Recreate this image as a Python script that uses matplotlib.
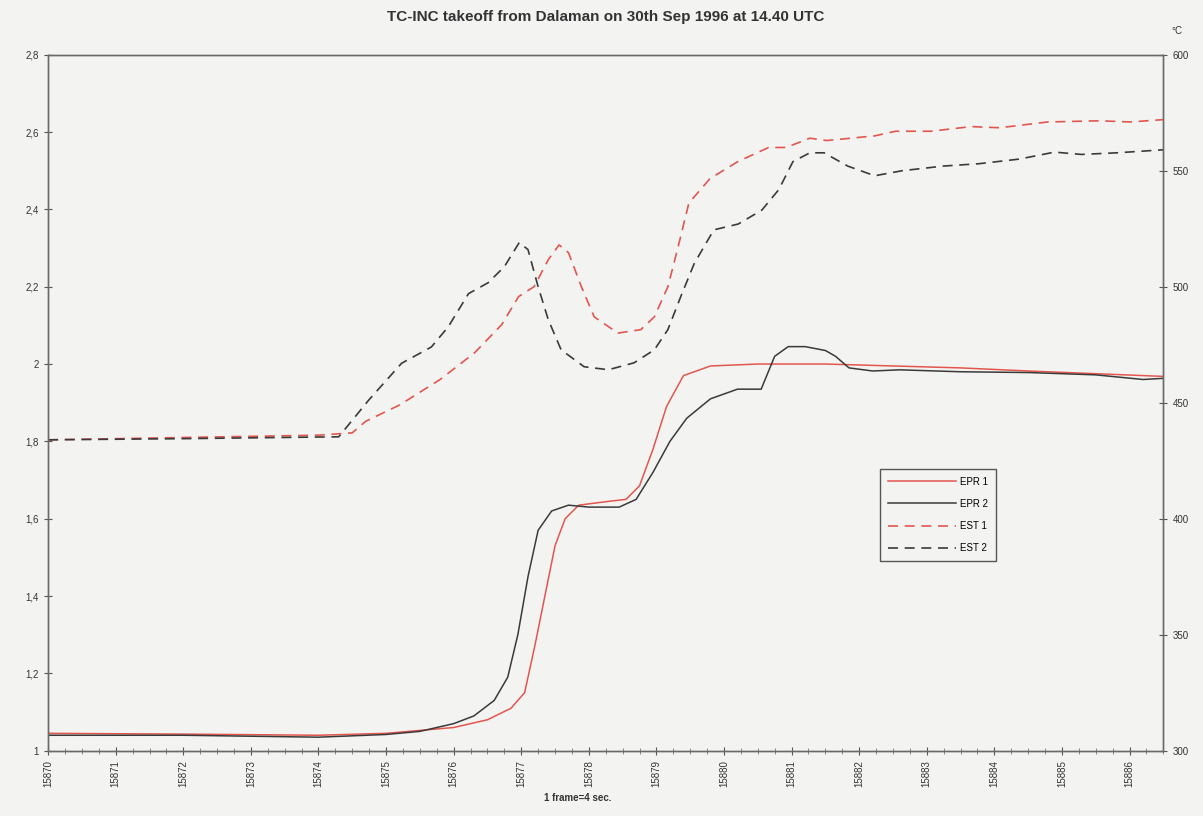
import matplotlib
matplotlib.use("Agg")
import matplotlib.pyplot as plt
from matplotlib.ticker import MultipleLocator, FuncFormatter

plt.rcParams['font.family'] = ['Liberation Sans', 'DejaVu Sans']

# EPR 1 (left axis)
epr1_f = [15870.0, 15872.0, 15874.0, 15875.0, 15876.0, 15876.5, 15876.85, 15877.05, 15877.2,
          15877.35, 15877.5, 15877.65, 15877.85, 15878.3, 15878.55, 15878.75, 15878.95, 15879.15,
          15879.4, 15879.8, 15880.5, 15881.5, 15882.5, 15883.5, 15884.5, 15885.5, 15886.5]
epr1_v = [1.045, 1.043, 1.040, 1.045, 1.06, 1.08, 1.11, 1.15, 1.27,
          1.40, 1.53, 1.60, 1.635, 1.645, 1.65, 1.685, 1.78, 1.89,
          1.97, 1.995, 2.0, 2.0, 1.995, 1.99, 1.982, 1.975, 1.968]

# EPR 2 (left axis)
epr2_f = [15870.0, 15872.0, 15874.0, 15875.0, 15875.5, 15876.0, 15876.3, 15876.6, 15876.8,
          15876.95, 15877.1, 15877.25, 15877.45, 15877.7, 15878.0, 15878.45, 15878.7, 15878.95,
          15879.2, 15879.45, 15879.8, 15880.2, 15880.55, 15880.75, 15880.95, 15881.2, 15881.5,
          15881.65, 15881.85, 15882.2, 15882.6, 15883.5, 15884.5, 15885.5, 15886.2, 15886.5]
epr2_v = [1.04, 1.04, 1.035, 1.042, 1.05, 1.07, 1.09, 1.13, 1.19,
          1.30, 1.45, 1.57, 1.62, 1.635, 1.63, 1.63, 1.65, 1.72,
          1.80, 1.86, 1.91, 1.935, 1.935, 2.02, 2.045, 2.045, 2.035,
          2.02, 1.99, 1.982, 1.985, 1.98, 1.978, 1.972, 1.96, 1.963]

# EST 1 (right axis, deg C)
est1_f = [15870.0, 15872.0, 15874.0, 15874.5, 15874.7, 15875.2, 15875.8, 15876.31, 15876.71,
          15876.96, 15877.19, 15877.4, 15877.56, 15877.7, 15877.89, 15878.08, 15878.43, 15878.77,
          15878.97, 15879.17, 15879.32, 15879.48, 15879.79, 15880.21, 15880.66, 15880.92, 15881.27,
          15881.52, 15882.23, 15882.54, 15883.06, 15883.66, 15884.08, 15884.79, 15885.55, 15886.01,
          15886.5]
est1_t = [434, 435, 436, 437, 442, 449, 460, 471.5, 483.6,
          495.7, 500, 511.6, 518, 514.6, 500, 487, 480, 481.5,
          487, 500, 517, 536, 546.5, 554, 560, 560, 564,
          563, 565, 567, 567, 569, 568.5, 571, 571.5, 571,
          572]

# EST 2 (right axis, deg C)
est2_f = [15870.0, 15872.0, 15874.3, 15874.74, 15875.23, 15875.67, 15875.92, 15876.22, 15876.51,
          15876.75, 15876.97, 15877.1, 15877.25, 15877.4, 15877.59, 15877.93, 15878.29, 15878.67,
          15878.97, 15879.17, 15879.36, 15879.56, 15879.85, 15880.21, 15880.56, 15880.81, 15881.02,
          15881.27, 15881.48, 15881.83, 15882.23, 15882.64, 15883.25, 15883.77, 15884.37, 15884.89,
          15885.29, 15885.81, 15886.5]
est2_t = [434, 434.5, 435.3, 451, 467, 474, 482.7, 497, 501.7,
          508.6, 519, 516, 500, 485.8, 472.8, 465.5, 464.2, 467.2,
          472.8, 481.5, 495.7, 510, 524.5, 527, 533, 541.8, 553.9,
          557.7, 557.7, 552, 547.8, 550, 552, 553, 555, 558,
          557, 557.7, 559]

bg = '#f3f4f2'
fig = plt.figure(figsize=(12.03, 8.16), dpi=100, facecolor=bg)
ax = fig.add_axes([0.040, 0.080, 0.927, 0.853])
ax.set_facecolor(bg)
ax2 = ax.twinx()

red = '#e2564e'
blk = '#3a3a3a'
l1, = ax.plot(epr1_f, epr1_v, color=red, lw=1.1, label='EPR 1')
l2, = ax.plot(epr2_f, epr2_v, color=blk, lw=1.1, label='EPR 2')
l3, = ax2.plot(est1_f, est1_t, color=red, lw=1.2, dashes=(6, 4), label='EST 1')
l4, = ax2.plot(est2_f, est2_t, color=blk, lw=1.2, dashes=(6, 4), label='EST 2')

ax.set_xlim(15870, 15886.5)
ax.set_ylim(1, 2.8)
ax2.set_ylim(300, 600)

ax.xaxis.set_major_locator(MultipleLocator(1))
ax.xaxis.set_minor_locator(MultipleLocator(0.25))
ax.yaxis.set_major_locator(MultipleLocator(0.2))
ax2.yaxis.set_major_locator(MultipleLocator(50))

ax.yaxis.set_major_formatter(FuncFormatter(lambda v, p: ('%g' % round(v, 1)).replace('.', ',')))
ax.xaxis.set_major_formatter(FuncFormatter(lambda v, p: '%d' % round(v)))

ax.tick_params(axis='x', which='major', direction='inout', length=6, labelsize=7, rotation=90, colors='#555555', labelcolor='#333333')
ax.tick_params(axis='x', which='minor', direction='inout', length=4, colors='#777777')
ax.tick_params(axis='y', direction='inout', length=6, labelsize=7, colors='#555555', labelcolor='#333333')
ax2.tick_params(axis='y', direction='inout', length=6, labelsize=7, colors='#555555', labelcolor='#333333')

for a in (ax, ax2):
    for s in a.spines.values():
        s.set_color('#6a6a6a')
        s.set_linewidth(1.0)

ax.set_title('TC-INC takeoff from Dalaman on 30th Sep 1996 at 14.40 UTC',
             fontsize=11, fontweight='bold', color='#333333', pad=24)
fig.text(0.48, 0.018, '1 frame=4 sec.', fontsize=7, fontweight='bold', color='#333333', ha='center')
fig.text(0.978, 0.958, '°C', fontsize=7, color='#333333', ha='center')

leg = ax2.legend(handles=[l1, l2, l3, l4], loc='upper left', bbox_to_anchor=(0.746, 0.405),
                 fontsize=7, frameon=True, fancybox=False, edgecolor='#555555',
                 facecolor=bg, framealpha=1, handlelength=7, labelspacing=1.25,
                 borderpad=0.8, handletextpad=0.4, borderaxespad=0)
leg.get_frame().set_linewidth(1.0)

fig.savefig('out.png', dpi=100, facecolor=bg)
